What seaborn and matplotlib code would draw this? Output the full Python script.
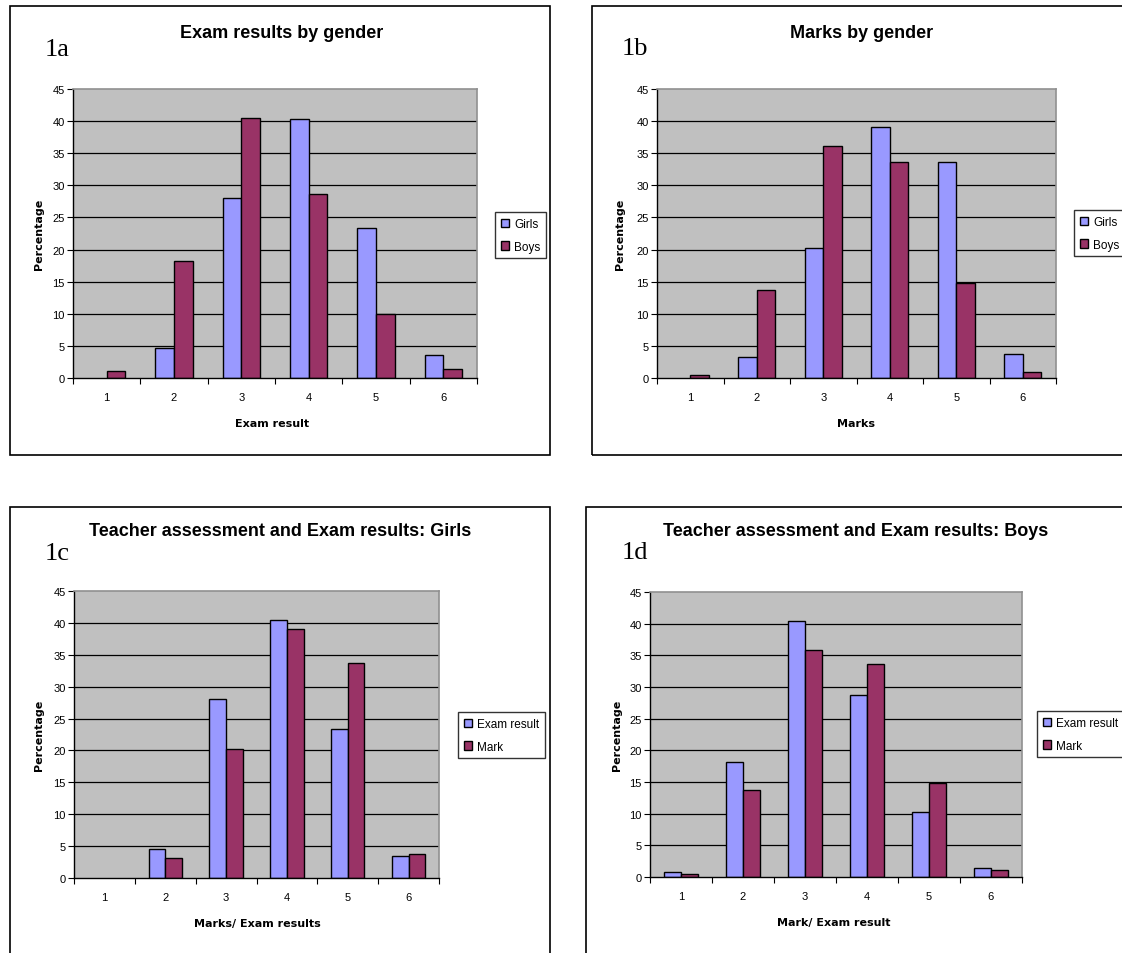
import matplotlib
matplotlib.use("Agg")
import matplotlib.pyplot as plt
from matplotlib.patches import Rectangle
import seaborn as sns
import pandas as pd
import numpy as np

sns.set_theme(style="white")
plt.rcParams['font.family'] = ['Liberation Sans', 'DejaVu Sans']
plt.rcParams['text.color'] = 'black'
plt.rcParams['xtick.color'] = 'black'
plt.rcParams['ytick.color'] = 'black'
plt.rcParams['axes.labelcolor'] = 'black'

W, H = 1122, 954

grades = ["1", "2", "3", "4", "5", "6"]

# 1a: Exam results by gender
exam_girls = [0.0, 4.7, 28.1, 40.3, 23.3, 3.6]
exam_boys = [1.1, 18.2, 40.5, 28.7, 10.0, 1.4]
# 1b: Marks by gender
marks_girls = [0.0, 3.2, 20.2, 39.1, 33.7, 3.7]
marks_boys = [0.5, 13.7, 36.1, 33.7, 14.8, 1.0]
# 1c: Girls exam vs mark
girls_exam = [0.0, 4.5, 28.1, 40.4, 23.4, 3.4]
girls_mark = [0.0, 3.2, 20.2, 39.1, 33.7, 3.7]
# 1d: Boys exam vs mark
boys_exam = [0.8, 18.1, 40.5, 28.8, 10.2, 1.4]
boys_mark = [0.5, 13.7, 35.9, 33.7, 14.8, 1.1]

yticks = [0, 5, 10, 15, 20, 25, 30, 35, 40, 45]

BLUE = "#9999FF"
MAROON = "#993366"

fig = plt.figure(figsize=(W / 100, H / 100), dpi=100)
fig.patch.set_facecolor("white")


def px_rect(x0, y0, x1, y1):
    return [x0 / W, 1 - y1 / H, (x1 - x0) / W, (y1 - y0) / H]


def frame(x0, y0, x1, y1):
    l, b, w, h = px_rect(x0, y0, x1, y1)
    fig.patches.append(Rectangle((l, b), w, h, transform=fig.transFigure,
                                 fill=False, edgecolor="black", linewidth=1.2))


def panel(axbox, s1, s2, names, title, title_xy, tag, tag_xy, xlabel,
          xlabel_xy, ylabel_x, legend_box):
    ax = fig.add_axes(px_rect(*axbox))
    df = pd.DataFrame({
        "grade": grades * 2,
        "value": list(s1) + list(s2),
        "series": [names[0]] * 6 + [names[1]] * 6,
    })
    sns.barplot(data=df, x="grade", y="value", hue="series", order=grades,
                hue_order=names, palette=[BLUE, MAROON], width=0.55,
                edgecolor="black", linewidth=1.0, saturation=1, ax=ax,
                legend=False)
    # hide zero-height bars (nothing drawn in the reference)
    for p in ax.patches:
        if abs(p.get_height()) < 1e-9:
            p.set_visible(False)
    ax.set_facecolor("#C0C0C0")
    ax.set_ylim(0, 45)
    ax.set_xlim(-0.5, 5.5)
    ax.set_yticks(yticks)
    ax.set_yticklabels([str(v) for v in yticks], fontsize=8)
    for v in yticks[1:-1]:
        ax.axhline(v, color="black", linewidth=0.9, zorder=0.5)
    ax.set_axisbelow(True)
    ax.tick_params(axis="y", direction="out", length=4, width=0.8,
                   color="black", pad=2, left=True)
    ax.set_xticks(range(6))
    ax.set_xticklabels(grades, fontsize=8)
    ax.tick_params(axis="x", which="major", length=0, pad=10)
    ax.set_xticks(np.arange(-0.5, 6.0, 1.0), minor=True)
    ax.tick_params(axis="x", which="minor", direction="out", length=4,
                   width=0.8, color="black", bottom=True)
    for side in ["left", "bottom"]:
        ax.spines[side].set_color("black")
        ax.spines[side].set_linewidth(1.0)
    for side in ["top", "right"]:
        ax.spines[side].set_color("#909090")
        ax.spines[side].set_linewidth(1.2)
    ax.set_xlabel("")
    ax.set_ylabel("")

    fig.text(title_xy[0] / W, 1 - title_xy[1] / H, title, ha="center",
             va="center", fontsize=13, fontweight="bold")
    fig.text(tag_xy[0] / W, 1 - tag_xy[1] / H, tag, ha="left", va="center",
             fontsize=19, family="Liberation Serif")
    fig.text(xlabel_xy[0] / W, 1 - xlabel_xy[1] / H, xlabel, ha="center",
             va="center", fontsize=8, fontweight="bold",
             family="DejaVu Sans")
    ymid = (axbox[1] + axbox[3]) / 2
    fig.text(ylabel_x / W, 1 - ymid / H, "Percentage", ha="center",
             va="center", rotation=90, fontsize=8, fontweight="bold",
             family="DejaVu Sans")

    handles = [Rectangle((0, 0), 1, 1, facecolor=BLUE, edgecolor="black",
                         linewidth=1.0),
               Rectangle((0, 0), 1, 1, facecolor=MAROON, edgecolor="black",
                         linewidth=1.0)]
    lx0, ly0, lx1, ly1 = legend_box
    leg = fig.legend(handles, names, loc="upper left",
                     bbox_to_anchor=(lx0 / W, 1 - ly0 / H),
                     bbox_transform=fig.transFigure, fontsize=8.5,
                     frameon=True, fancybox=False, handlelength=0.7,
                     handleheight=0.7, handletextpad=0.4, borderpad=0.5,
                     labelspacing=0.9, borderaxespad=0)
    leg.get_frame().set_edgecolor("black")
    leg.get_frame().set_linewidth(1.0)
    return ax


# frames
frame(10, 7, 550, 456)
frame(592, 7, 1140, 456)
frame(10, 508, 550, 970)
frame(586, 508, 1140, 970)

panel((73, 90, 477, 379), exam_girls, exam_boys, ["Girls", "Boys"],
      "Exam results by gender", (282, 33), "1a", (45, 50),
      "Exam result", (272, 424), 39, (495, 213, 544, 257))

panel((657, 90, 1056, 379), marks_girls, marks_boys, ["Girls", "Boys"],
      "Marks by gender", (862, 33), "1b", (622, 49),
      "Marks", (856, 424), 620, (1074, 211, 1130, 257))

panel((74, 592, 439, 879), girls_exam, girls_mark, ["Exam result", "Mark"],
      "Teacher assessment and Exam results: Girls", (280, 532), "1c",
      (45, 554), "Marks/ Exam results", (257, 924), 39, (458, 713, 543, 758))

panel((650, 593, 1022, 878), boys_exam, boys_mark, ["Exam result", "Mark"],
      "Teacher assessment and Exam results: Boys", (856, 532), "1d",
      (622, 553), "Mark/ Exam result", (834, 923), 617, (1037, 712, 1114, 758))

fig.savefig("out.png", dpi=100, facecolor="white")
